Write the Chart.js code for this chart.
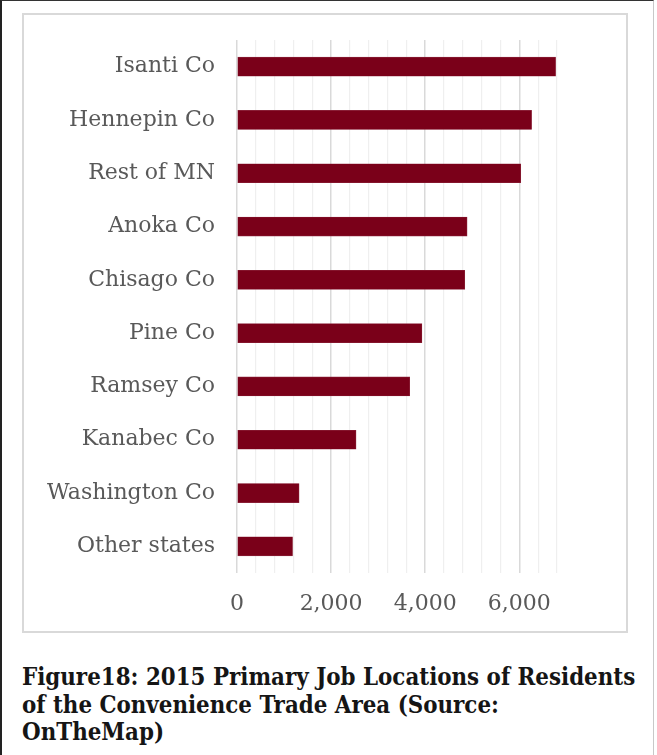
<!DOCTYPE html>
<html>
<head>
<meta charset="utf-8">
<script src="https://cdn.jsdelivr.net/npm/chart.js@4.4.1/dist/chart.umd.min.js"></script>
<style>
  html, body { margin: 0; padding: 0; background: #fff; }
  #frame {
    position: absolute; left: 0; top: 0; width: 654px; height: 760px;
    border-top: 1px solid #333; border-left: 2px solid #222; border-right: 1px solid #c8c8c8;
    box-sizing: border-box;
  }
  #box {
    position: absolute; left: 22px; top: 13px; width: 606px; height: 620px;
    border: 2px solid #d9d9d9; box-sizing: border-box; background: #fff;
  }
  #box canvas { position: absolute; left: 0; top: 0; }
  #caption {
    position: absolute; left: 22px; top: 664px; width: 616px;
    font-family: "DejaVu Serif Condensed", "DejaVu Serif", serif; font-stretch: condensed;
    font-weight: bold; font-size: 23.8px;
    line-height: 27.5px; color: #151515;
  }
</style>
</head>
<body>
<div id="frame"></div>
<div id="box"><canvas id="chart" width="602" height="616"></canvas></div>
<div id="caption">Figure18: 2015 Primary Job Locations of Residents of the Convenience Trade Area (Source: OnTheMap)</div>
<script>
// Primary job locations of residents, 2015
const places = ["Isanti Co", "Hennepin Co", "Rest of MN", "Anoka Co", "Chisago Co",
                "Pine Co", "Ramsey Co", "Kanabec Co", "Washington Co", "Other states"];
const jobs = [6770, 6260, 6030, 4890, 4840, 3930, 3670, 2530, 1320, 1180];
const labeledTicks = [0, 2000, 4000, 6000];

const labelFont = { family: "'DejaVu Serif', serif", size: 22 };

new Chart(document.getElementById("chart"), {
  type: "bar",
  data: {
    labels: places,
    datasets: [{
      data: jobs,
      backgroundColor: "#7a0019",
      borderColor: "#8f2a40",
      borderWidth: 0.6,
      borderSkipped: false,
      barThickness: 19
    }]
  },
  options: {
    indexAxis: "y",
    responsive: false,
    animation: false,
    layout: { padding: { top: 25, right: 69, bottom: 0, left: 0 } },
    plugins: { legend: { display: false }, tooltip: { enabled: false } },
    scales: {
      x: {
        min: 0, max: 6800,
        border: { display: false },
        grid: {
          drawTicks: false,
          color: ctx => (ctx.tick && ctx.tick.value % 2000 === 0) ? "#d9d9d9" : "#efefef",
          lineWidth: ctx => (ctx.tick && ctx.tick.value % 2000 === 0) ? 1.5 : 1.2
        },
        ticks: {
          stepSize: 400,
          autoSkip: false,
          maxRotation: 0,
          padding: 18,
          color: "#595959",
          font: labelFont,
          callback: v => labeledTicks.includes(v) ? v.toLocaleString("en-US") : ""
        },
        afterFit: s => { s.height = 58; }
      },
      y: {
        border: { display: false },
        grid: { display: false, drawTicks: false },
        ticks: { padding: 22, color: "#595959", font: labelFont },
        afterFit: s => { s.width = 213; s.paddingTop = 0; s.paddingBottom = 0; }
      }
    }
  }
});
</script>
</body>
</html>
